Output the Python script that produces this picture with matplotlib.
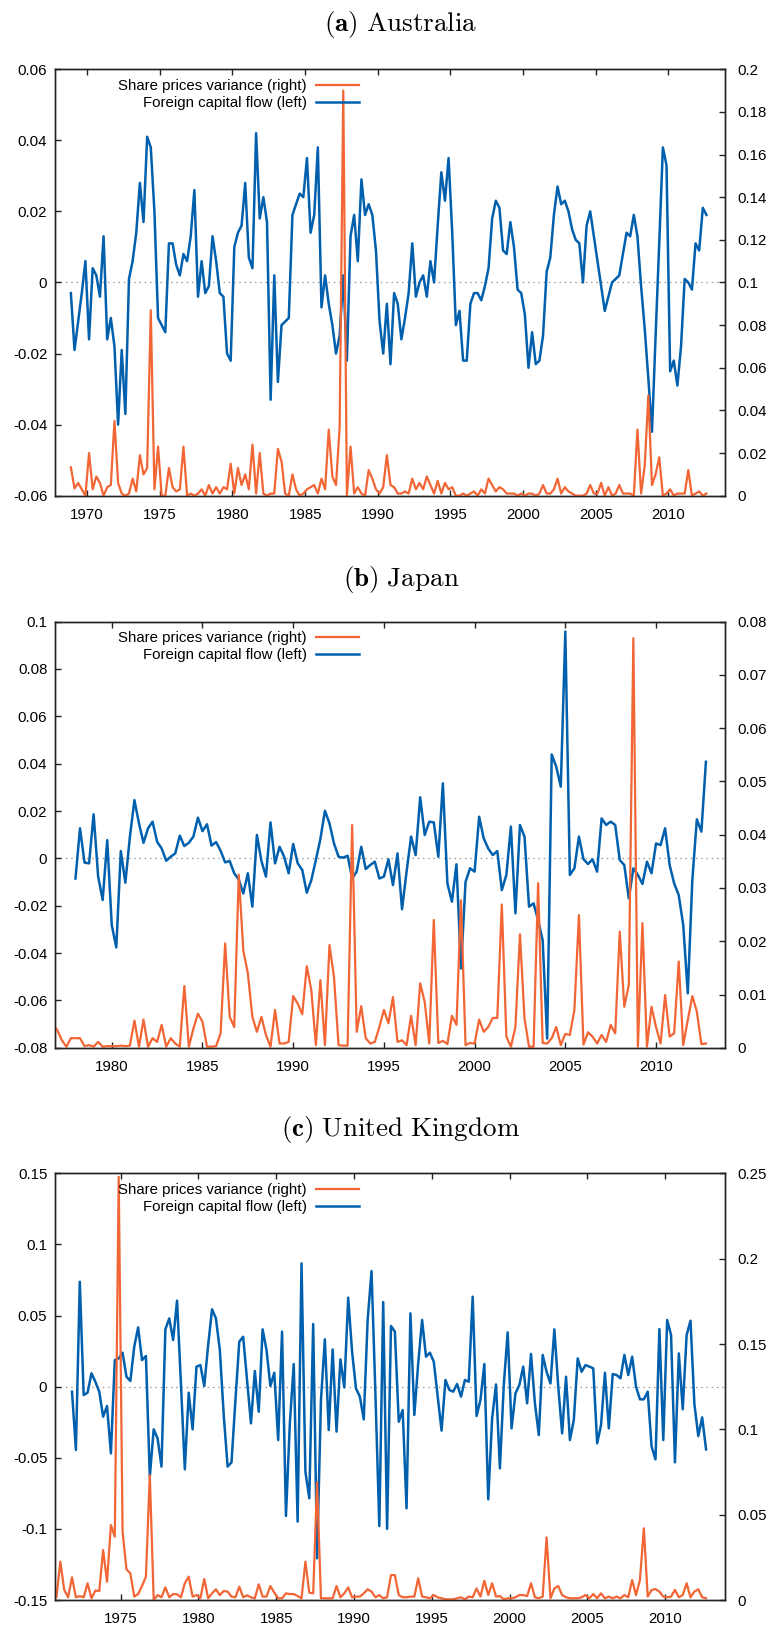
"""
Foreign capital flow (left axis) vs share prices variance (right axis),
quarterly, for Australia / Japan / United Kingdom.
"""

import numpy as np
import matplotlib
matplotlib.use('Agg')
import matplotlib.pyplot as plt
from matplotlib.ticker import FuncFormatter, MultipleLocator

plt.rcParams['font.family'] = ['Liberation Sans', 'DejaVu Sans']
plt.rcParams['mathtext.fontset'] = 'cm'

CLR_FLOW = '#0060ad'   # blue, left axis
CLR_VAR = '#f26535'    # orange, right axis
FS = 10.8              # tick / legend font size

# ── Australia: quarterly from 1968Q4 ──
AU_START = 1968.875
au_flow = [
    -0.003, -0.019, -0.011, -0.003, 0.006, -0.016, 0.004, 0.002, -0.004, 0.013,
    -0.016, -0.010, -0.018, -0.040, -0.019, -0.037, 0.001, 0.006, 0.014, 0.028,
    0.017, 0.041, 0.038, 0.020, -0.010, -0.012, -0.014, 0.011, 0.011, 0.005,
    0.002, 0.008, 0.006, 0.013, 0.026, -0.004, 0.006, -0.003, -0.001, 0.013,
    0.006, -0.003, -0.004, -0.020, -0.022, 0.010, 0.014, 0.016, 0.028, 0.007,
    0.004, 0.042, 0.018, 0.024, 0.017, -0.033, 0.002, -0.028, -0.012, -0.011,
    -0.010, 0.019, 0.022, 0.025, 0.024, 0.035, 0.014, 0.019, 0.038, -0.007,
    0.002, -0.006, -0.012, -0.020, -0.015, 0.002, -0.022, 0.013, 0.019, 0.006,
    0.029, 0.019, 0.022, 0.019, 0.009, -0.011, -0.020, -0.006, -0.023, -0.003,
    -0.006,
    -0.016, -0.010, -0.003, 0.011, -0.004, 0.000, 0.002, -0.004, 0.006, 0.000,
    0.016, 0.031, 0.023, 0.035, 0.014, -0.012, -0.008, -0.022, -0.022, -0.006,
    -0.003, -0.003, -0.005, -0.001, 0.004, 0.018, 0.023, 0.021, 0.009, 0.008,
    0.017, 0.010, -0.002, -0.003, -0.009, -0.024, -0.014, -0.023, -0.022, -0.015,
    0.003, 0.007, 0.019, 0.027, 0.022, 0.023, 0.020, 0.015, 0.012, 0.011,
    0.000, 0.016, 0.020, 0.013, 0.006, -0.001, -0.008, -0.004, 0.000, 0.001,
    0.002, 0.008, 0.014, 0.013, 0.019, 0.013, -0.001, -0.013, -0.027, -0.042,
    -0.015, 0.011, 0.038, 0.033, -0.025, -0.022, -0.029, -0.018, 0.001, 0.000,
    -0.002, 0.011, 0.009, 0.021, 0.019,
]
au_var = [
    0.0133, 0.0034, 0.006, 0.003, 0.000, 0.020, 0.003, 0.009, 0.006, 0.000,
    0.004, 0.005, 0.035, 0.006, 0.001, 0.000, 0.001, 0.008, 0.002, 0.019,
    0.010, 0.013, 0.087, 0.003, 0.023, 0.000, 0.000, 0.013, 0.004, 0.002,
    0.003, 0.023, 0.000, 0.001, 0.000, 0.001, 0.003, 0.000, 0.005, 0.001,
    0.004, 0.001, 0.004, 0.003, 0.015, 0.001, 0.013, 0.005, 0.010, 0.003,
    0.024, 0.001, 0.020, 0.001, 0.000, 0.001, 0.001, 0.022, 0.016, 0.001,
    0.000, 0.010, 0.003, 0.000, 0.001, 0.003, 0.004, 0.005, 0.001, 0.008,
    0.003, 0.031, 0.009, 0.005, 0.032, 0.190, 0.000, 0.023, 0.001, 0.004,
    0.001, 0.000, 0.012, 0.008, 0.003, 0.001, 0.004, 0.019, 0.005, 0.004,
    0.001,
    0.001, 0.002, 0.001, 0.008, 0.003, 0.006, 0.003, 0.009, 0.005, 0.001,
    0.007, 0.001, 0.006, 0.003, 0.004, 0.000, 0.000, 0.001, 0.000, 0.001,
    0.002, 0.000, 0.003, 0.001, 0.008, 0.005, 0.002, 0.004, 0.003, 0.001,
    0.001, 0.001, 0.000, 0.001, 0.000, 0.001, 0.001, 0.000, 0.001, 0.005,
    0.001, 0.001, 0.003, 0.008, 0.001, 0.004, 0.002, 0.001, 0.000, 0.000,
    0.000, 0.001, 0.005, 0.001, 0.001, 0.006, 0.000, 0.004, 0.000, 0.001,
    0.005, 0.001, 0.001, 0.001, 0.000, 0.031, 0.001, 0.014, 0.047, 0.005,
    0.010, 0.018, 0.000, 0.001, 0.003, 0.000, 0.001, 0.001, 0.001, 0.012,
    0.000, 0.001, 0.002, 0.000, 0.001,
]

# ── Japan: flow from 1978Q1, variance from 1976Q4 ──
JP_FLOW_START = 1978.0
JP_VAR_START = 1976.75
jp_flow = [
    -0.0085, 0.0127, -0.0018, -0.0021, 0.0186, -0.0077, -0.0176, 0.0077, -0.0282, -0.0376,
    0.0031, -0.0103, 0.0092, 0.0246, 0.0148, 0.0066, 0.0127, 0.0155, 0.0070, 0.0042,
    -0.0010, 0.0007, 0.0021, 0.0096, 0.0052, 0.0066, 0.0092, 0.0172, 0.0115, 0.0144,
    0.0054, 0.0069, 0.0032, -0.0017, -0.0011, -0.0063, -0.0089, -0.0148, -0.0063, -0.0204,
    0.0099, -0.0011, -0.0077, 0.0152, -0.0021, 0.0049, 0.0007, -0.0063, 0.0061, -0.0021,
    -0.0049, -0.0145, -0.0092, -0.0007, 0.0082, 0.0201, 0.0148, 0.0063, 0.0007, 0.0003,
    0.0011, -0.0085, -0.0056, 0.0049, -0.0045, -0.0028, -0.0014, -0.0085, -0.0077, -0.0004,
    -0.0113, 0.0021, -0.0215, -0.0056, 0.0092, 0.0014, 0.0258, 0.0099, 0.0155, 0.0152,
    0.0007, 0.0317, -0.0106, -0.0183, -0.0025, -0.0465, -0.0099, -0.0042, -0.0056, 0.0176,
    0.0085, 0.0042, 0.0014, 0.0031, -0.0134, -0.0070, 0.0134, -0.0232, 0.0141, 0.0092,
    -0.0204, -0.0190, -0.0261, -0.0345, -0.0761, 0.0439, 0.0387, 0.0303, 0.0958, -0.0070,
    -0.0042, 0.0092, -0.0003, -0.0024, -0.0004, -0.0056, 0.0169, 0.0141, 0.0155, 0.0141,
    -0.0007, -0.0028, -0.0169, -0.0042, -0.0070, -0.0108, -0.0014, -0.0063, 0.0063, 0.0056,
    0.0127, -0.0028, -0.0106, -0.0155, -0.0282, -0.0570, -0.0092, 0.0165, 0.0113, 0.0408,
]
jp_var_milli = [  # x 1e-3
    4.5,
    3.3, 1.4, 0.2, 1.8, 1.8, 1.8, 0.3, 0.5, 0.2, 1.1,
    0.2, 0.3, 0.3, 0.3, 0.4, 0.3, 0.4, 5.1, 0.2, 5.3,
    0.2, 1.8, 1.1, 4.3, 0.2, 1.8, 0.8, 0.2, 11.6, 0.2,
    3.6, 6.4, 4.9, 0.2, 0.2, 0.3, 2.7, 19.6, 5.8, 3.9,
    32.5, 18.3, 14.0, 5.8, 3.0, 5.8, 2.4, 0.2, 7.1, 0.8,
    0.8, 1.1, 9.7, 8.3, 6.3, 15.3, 10.8, 0.5, 12.7, 0.5,
    19.3, 13.3, 0.5, 0.4, 0.4, 41.8, 3.0, 7.8, 1.8, 0.8,
    1.1, 3.9, 7.1, 4.6, 9.5, 1.1, 1.4, 0.5, 6.0, 0.5,
    12.1, 8.6, 0.8, 24.0, 0.9, 1.3, 0.7, 6.0, 4.3, 27.7,
    0.5, 0.9, 0.8, 5.3, 3.0, 3.9, 5.6, 5.6, 26.9, 2.1,
    0.2, 3.9, 21.3, 5.5, 0.2, 0.2, 30.9, 0.9, 0.8, 1.8,
    3.9, 0.5, 2.6, 2.4, 7.1, 24.9, 0.6, 2.9, 2.1, 0.8,
    2.4, 1.1, 4.3, 2.7, 21.8, 7.7, 11.8, 76.9, 0.2, 23.4,
    0.2, 7.7, 3.9, 0.8, 9.9, 2.1, 2.7, 16.2, 0.5, 5.2,
    9.7, 6.8, 0.7, 0.8,
]

# ── United Kingdom: variance from 1970Q4, flow from 1971Q4 ──
UK_VAR_START = 1970.875
UK_FLOW_START = 1971.875
uk_flow = [
    -0.0035, -0.0445, 0.0738, -0.0059, -0.0042, 0.0094, 0.0035, -0.0035, -0.0211, -0.0136,
    -0.0469, 0.0187, 0.0199, 0.0239, 0.0070, 0.0040, 0.0281, 0.0417, 0.0187, 0.0216,
    -0.0633, -0.0300, -0.0363, -0.0562, 0.0403, 0.0480, 0.0328, 0.0605, 0.0023, -0.0581,
    -0.0042, -0.0300, 0.0141, 0.0152, 0.0005, 0.0293, 0.0544, 0.0480, 0.0258, -0.0199,
    -0.0562, -0.0532, -0.0100, 0.0316, 0.0351, 0.0050, -0.0258, 0.0110, -0.0176, 0.0403,
    0.0258, 0.0005, 0.0098, -0.0375, 0.0387, -0.0909, -0.0258, 0.0159, -0.0949, 0.0867,
    -0.0598, -0.0785, 0.0441, -0.1207, -0.0094, 0.0333, -0.0305, 0.0262, -0.0316, 0.0192,
    -0.0005, 0.0626, 0.0246, -0.0012, -0.0070, -0.0230, 0.0469, 0.0813, -0.0050, -0.0980,
    0.0595, -0.1000, 0.0427, 0.0387, -0.0246, -0.0164, -0.0855, 0.0516, -0.0199, 0.0164,
    0.0469, 0.0211, 0.0239, 0.0176, -0.0070, -0.0309, 0.0047, -0.0023, -0.0035, 0.0019,
    -0.0070, 0.0047, 0.0035, 0.0633, -0.0206, -0.0094, 0.0159, -0.0792, -0.0223, 0.0016,
    -0.0574, 0.0012, 0.0382, -0.0293, -0.0047, 0.0012, 0.0141, -0.0117, 0.0230, -0.0117,
    -0.0340, 0.0223, 0.0105, 0.0023, 0.0403, 0.0000, -0.0328, 0.0070, -0.0375, -0.0234,
    0.0199, 0.0105, 0.0152, 0.0141, 0.0129, -0.0398, -0.0270, 0.0098, -0.0293, 0.0089,
    0.0082, 0.0059, 0.0223, 0.0082, 0.0211, 0.0000, -0.0089, -0.0089, -0.0035, -0.0422,
    -0.0511, 0.0405, -0.0375, 0.0469, 0.0363, -0.0532, 0.0234, -0.0159, 0.0363, 0.0464,
    -0.0122, -0.0347, -0.0216, -0.0441,
]
uk_var_milli = [  # x 1e-3
    1.6, 22.5, 5.9, 1.6, 13.3, 1.6, 2.3, 1.6, 9.8, 1.0,
    5.5, 5.3, 29.3, 10.7, 43.9, 37.1, 248.0, 40.0, 18.0, 15.6,
    2.0, 3.5, 8.2, 13.7, 73.2, 0.0, 2.9, 1.6, 7.4, 1.6,
    3.5, 3.3, 1.6, 9.8, 13.7, 2.0, 2.9, 1.0, 12.3, 1.0,
    3.9, 6.3, 2.9, 5.3, 4.9, 2.0, 1.6, 7.8, 1.6, 2.7,
    1.6, 1.0, 9.2, 2.0, 2.0, 8.2, 4.3, 1.0, 1.0, 3.9,
    3.5, 3.5, 2.3, 1.0, 22.5, 4.3, 3.9, 69.0, 1.0, 1.0,
    1.0, 1.0, 8.2, 1.6, 3.9, 7.4, 1.6, 2.0, 2.0, 3.9,
    6.3, 4.9, 1.6, 2.9, 1.0, 1.6, 14.6, 14.6, 2.9, 1.6,
    1.6, 2.0, 2.0, 12.7, 2.0, 1.6, 1.0, 2.9, 1.6, 1.0,
    0.4, 0.4, 0.4, 1.0, 1.6, 0.4, 2.0, 1.6, 6.8, 2.0,
    11.3, 2.9, 9.8, 2.0, 2.3, 0.4, 1.0, 1.0, 1.6, 2.9,
    2.9, 2.3, 9.8, 1.6, 1.0, 2.0, 36.7, 1.0, 6.8, 8.2,
    2.9, 1.6, 1.0, 1.0, 1.0, 1.6, 2.9, 1.0, 3.5, 1.0,
    3.9, 1.0, 2.0, 1.0, 2.0, 1.0, 2.9, 1.6, 11.7, 2.9,
    11.7, 42.0, 2.0, 5.9, 6.4, 4.9, 2.0, 1.6, 2.0, 5.9,
    1.6, 2.9, 9.8, 1.6, 4.9, 6.3, 1.6, 1.0,
]


def quarters(start, n):
    return start + 0.25 * np.arange(n)


def gfmt(v, _):
    v = round(v, 6)
    return '0' if v == 0 else '%g' % v


PANELS = [
    dict(title=r'$\mathbf{(a)}\ \mathrm{Australia}$', title_y=0.9847,
         rect=[0.0713, 0.6957, 0.869, 0.2618],
         t_flow=quarters(AU_START, len(au_flow)), flow=np.array(au_flow),
         t_var=quarters(AU_START, len(au_var)), var=np.array(au_var),
         xlim=(1967.78, 2013.9), ylim=(-0.06, 0.06), ystep=0.02,
         y2lim=(0, 0.2), y2step=0.02, xticks=range(1970, 2011, 5)),
    dict(title=r'$\mathbf{(b)}\ \mathrm{Japan}$', title_y=0.6443,
         rect=[0.0713, 0.3568, 0.869, 0.2616],
         t_flow=quarters(JP_FLOW_START, len(jp_flow)), flow=np.array(jp_flow),
         t_var=quarters(JP_VAR_START, len(jp_var_milli)),
         var=np.array(jp_var_milli) / 1000,
         xlim=(1976.87, 2013.8), ylim=(-0.08, 0.1), ystep=0.02,
         y2lim=(0, 0.08), y2step=0.01, xticks=range(1980, 2011, 5)),
    dict(title=r'$\mathbf{(c)}\ \mathrm{United\ Kingdom}$', title_y=0.3065,
         rect=[0.0713, 0.0178, 0.869, 0.2619],
         t_flow=quarters(UK_FLOW_START, len(uk_flow)), flow=np.array(uk_flow),
         t_var=quarters(UK_VAR_START, len(uk_var_milli)),
         var=np.array(uk_var_milli) / 1000,
         xlim=(1970.78, 2013.84), ylim=(-0.15, 0.15), ystep=0.05,
         y2lim=(0, 0.25), y2step=0.05, xticks=range(1975, 2011, 5)),
]

fig = plt.figure(figsize=(7.71, 16.29), dpi=100)

for p in PANELS:
    ax = fig.add_axes(p['rect'])
    ax2 = ax.twinx()

    ax.axhline(0, color='#999999', lw=0.9, ls=(0, (1.2, 3)), zorder=1)
    ln_flow, = ax.plot(p['t_flow'], p['flow'], color=CLR_FLOW, lw=1.8,
                       label='Foreign capital flow (left)', zorder=2)
    ln_var, = ax2.plot(p['t_var'], p['var'], color=CLR_VAR, lw=1.6,
                       label='Share prices variance (right)')

    ax.set_xlim(*p['xlim'])
    ax.set_ylim(*p['ylim'])
    ax2.set_ylim(*p['y2lim'])
    ax.set_xticks(list(p['xticks']))
    ax.yaxis.set_major_locator(MultipleLocator(p['ystep']))
    ax2.yaxis.set_major_locator(MultipleLocator(p['y2step']))
    ax.yaxis.set_major_formatter(FuncFormatter(gfmt))
    ax2.yaxis.set_major_formatter(FuncFormatter(gfmt))

    ax.tick_params(axis='x', direction='in', top=True, length=4.5, width=1,
                   pad=8.5, labelsize=FS, color='#222222')
    ax.tick_params(axis='y', direction='in', right=False, length=4.5, width=1,
                   pad=5.5, labelsize=FS, color='#222222')
    ax2.tick_params(axis='y', direction='in', length=4.5, width=1,
                    pad=9, labelsize=FS, color='#222222')
    for a in (ax, ax2):
        for s in a.spines.values():
            s.set_linewidth(1.0)
            s.set_color('#222222')

    ax2.legend([ln_var, ln_flow],
               ['Share prices variance (right)', 'Foreign capital flow (left)'],
               loc='upper right', bbox_to_anchor=(0.454, 0.977),
               frameon=False, markerfirst=False, fontsize=FS,
               borderpad=0, borderaxespad=0, handlelength=2.87,
               handletextpad=0.6, labelspacing=0.2)

    fig.text(0.52, p['title_y'], p['title'], ha='center', va='center',
             fontsize=19.5)

fig.savefig('out.png', dpi=100)
